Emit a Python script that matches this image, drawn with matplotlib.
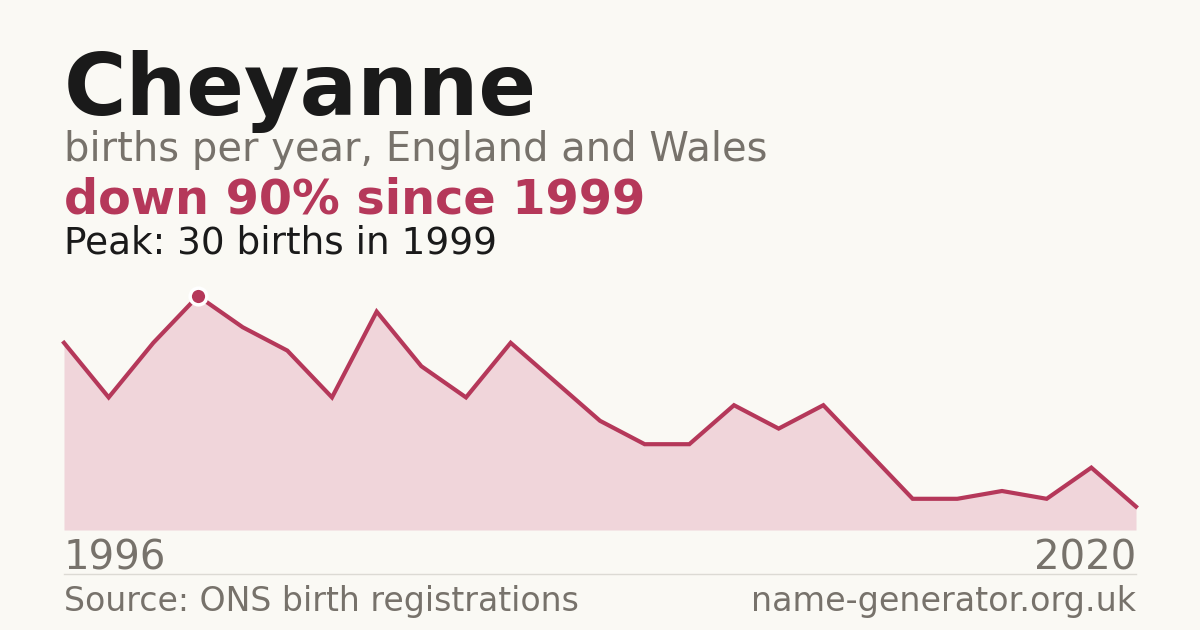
import matplotlib
matplotlib.use("Agg")
import matplotlib.pyplot as plt

years = list(range(1996, 2021))
births = [24, 17, 24, 30, 26, 23, 17, 28, 21, 17, 24, 19, 14, 11, 11,
          16, 13, 16, 10, 4, 4, 5, 4, 8, 3]

name = "Cheyanne"
subtitle = "births per year, England and Wales"
headline = "down 90% since 1999"
peak_note = "Peak: 30 births in 1999"
source = "Source: ONS birth registrations"
site = "name-generator.org.uk"

bg = "#faf9f4"
accent = "#b5385a"
fill = "#f0d5da"
grey = "#77726b"
dark = "#1a1a1a"

W, H = 1200, 630
fig = plt.figure(figsize=(W / 100, H / 100), dpi=100, facecolor=bg)

# chart area in pixels: left 64, right 1136, bottom 530, top 296
ax = fig.add_axes([64 / W, (H - 530) / H, (1136 - 64) / W, (530 - 296) / H])
ax.set_facecolor("none")
ax.fill_between(years, births, 0, color=fill, lw=0)
ax.plot(years, births, color=accent, lw=3, solid_joinstyle="miter", clip_on=False)
peak_i = births.index(max(births))
ax.plot(years[peak_i], births[peak_i], marker="o", ms=12, color=accent,
        mec="white", mew=2.5, clip_on=False, zorder=5)
ax.set_xlim(years[0], years[-1])
ax.set_ylim(0, max(births))
ax.axis("off")


def px(x, y):
    return x / W, 1 - y / H


fig.text(*px(64, 115), name, fontsize=61.4, fontweight="bold", color=dark, va="baseline")
fig.text(*px(64, 161), subtitle, fontsize=28.8, color=grey, va="baseline")
fig.text(*px(64, 214), headline, fontsize=34.4, fontweight="bold", color=accent, va="baseline")
fig.text(*px(64, 254), peak_note, fontsize=26.9, color=dark, va="baseline")
fig.text(*px(64, 570), str(years[0]), fontsize=29, color=grey, va="baseline")
fig.text(*px(1136, 570), str(years[-1]), fontsize=29, color=grey, va="baseline", ha="right")
fig.text(*px(64, 611), source, fontsize=23.9, color=grey, va="baseline")
fig.text(*px(1136, 611), site, fontsize=24, color=grey, va="baseline", ha="right")

fig.add_artist(plt.Line2D([64 / W, 1136 / W], [1 - 574 / H] * 2, color="#dcdad4", lw=1))

fig.savefig("out.png", dpi=100, facecolor=bg)
